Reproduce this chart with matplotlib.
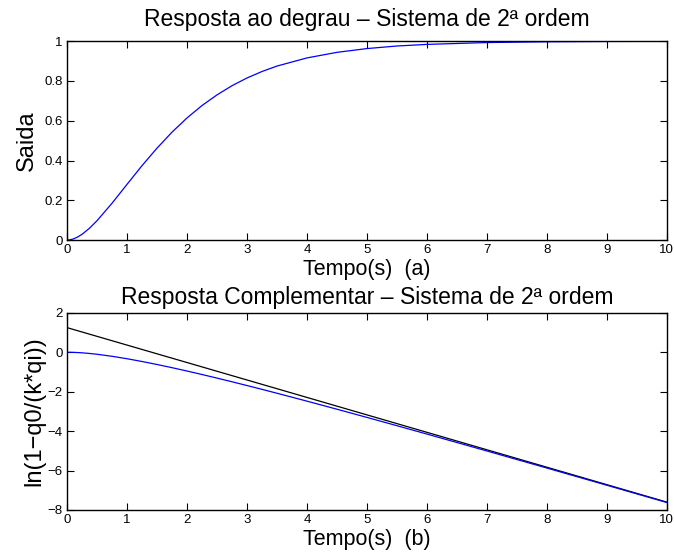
import matplotlib
matplotlib.use("Agg")
import matplotlib.pyplot as plt

# ── Dados ────────────────────────────────────────────────────────────────────
tempo = [0, 0.05, 0.1, 0.175, 0.25, 0.375, 0.5, 0.75, 1, 1.25, 1.5, 1.75,
         2, 2.25, 2.5, 2.75, 3, 3.25, 3.5, 4, 4.5, 5, 5.5, 6, 7, 8, 9, 10]
saida = [0, 0.0014, 0.0051, 0.0149, 0.0288, 0.0595, 0.0972, 0.185, 0.280,
         0.374, 0.462, 0.5425, 0.614, 0.6764, 0.730, 0.7762, 0.815, 0.8476,
         0.875, 0.916, 0.944, 0.963, 0.9759, 0.984, 0.9933, 0.9972, 0.99882,
         0.99951]
compl = [0, -0.0014, -0.0051, -0.0150, -0.0292, -0.0613, -0.1023, -0.2047,
         -0.3285, -0.4683, -0.6203, -0.782, -0.952, -1.1284, -1.3104, -1.4967,
         -1.688, -1.8812, -2.0786, -2.4796, -2.8886, -3.3044, -3.7243, -4.1494,
         -5.007, -5.873, -6.745, -7.621]
# assintota (reta) do termo dominante
reta_t = [0, 10]
reta_y = [1.249, -7.601]

xticks = list(range(0, 11))
yticks_a = [0, 0.2, 0.4, 0.6, 0.8, 1]
ylabels_a = ["0", "0.2", "0.4", "0.6", "0.8", "1"]
yticks_b = [-8, -6, -4, -2, 0, 2]

plt.rcParams["font.family"] = ["Liberation Sans", "DejaVu Sans"]

fig = plt.figure(figsize=(6.74, 5.57), dpi=100)
ax1 = fig.add_axes([0.0994, 0.569, 0.890, 0.357])
ax2 = fig.add_axes([0.0994, 0.0844, 0.890, 0.354])

def estilo(ax):
    ax.tick_params(direction="in", top=True, right=True, length=5,
                   width=0.8, labelsize=9.5, pad=3)
    for s in ax.spines.values():
        s.set_linewidth(1.0)
    ax.set_xlim(0, 10)
    ax.set_xticks(xticks)
    ax.set_xticklabels([str(v) for v in xticks])

# (a) resposta ao degrau
ax1.plot(tempo, saida, color="#0000ff", lw=0.9)
estilo(ax1)
ax1.set_ylim(0, 1)
ax1.set_yticks(yticks_a)
ax1.set_yticklabels(ylabels_a)
ax1.set_title("Resposta ao degrau \u2013 Sistema de 2\u00aa ordem", fontsize=16.5, pad=11)
ax1.set_xlabel("Tempo(s)  (a)", fontsize=15.5, labelpad=2)
ax1.set_ylabel("Saida", fontsize=17, labelpad=5)

# (b) resposta complementar
ax2.plot(reta_t, reta_y, color="black", lw=0.9)
ax2.plot(tempo, compl, color="#0000ff", lw=0.9)
estilo(ax2)
ax2.set_ylim(-8, 2)
ax2.set_yticks(yticks_b)
ax2.set_yticklabels(["\u2212" + str(-v) if v < 0 else str(v) for v in yticks_b])
ax2.set_title("Resposta Complementar \u2013 Sistema de 2\u00aa ordem", fontsize=16.5, pad=6)
ax2.set_xlabel("Tempo(s)  (b)", fontsize=15.5, labelpad=2)
ax2.set_ylabel("ln(1\u2212q0/(k*qi))", fontsize=17, labelpad=2)

fig.savefig("out.png", dpi=100)
